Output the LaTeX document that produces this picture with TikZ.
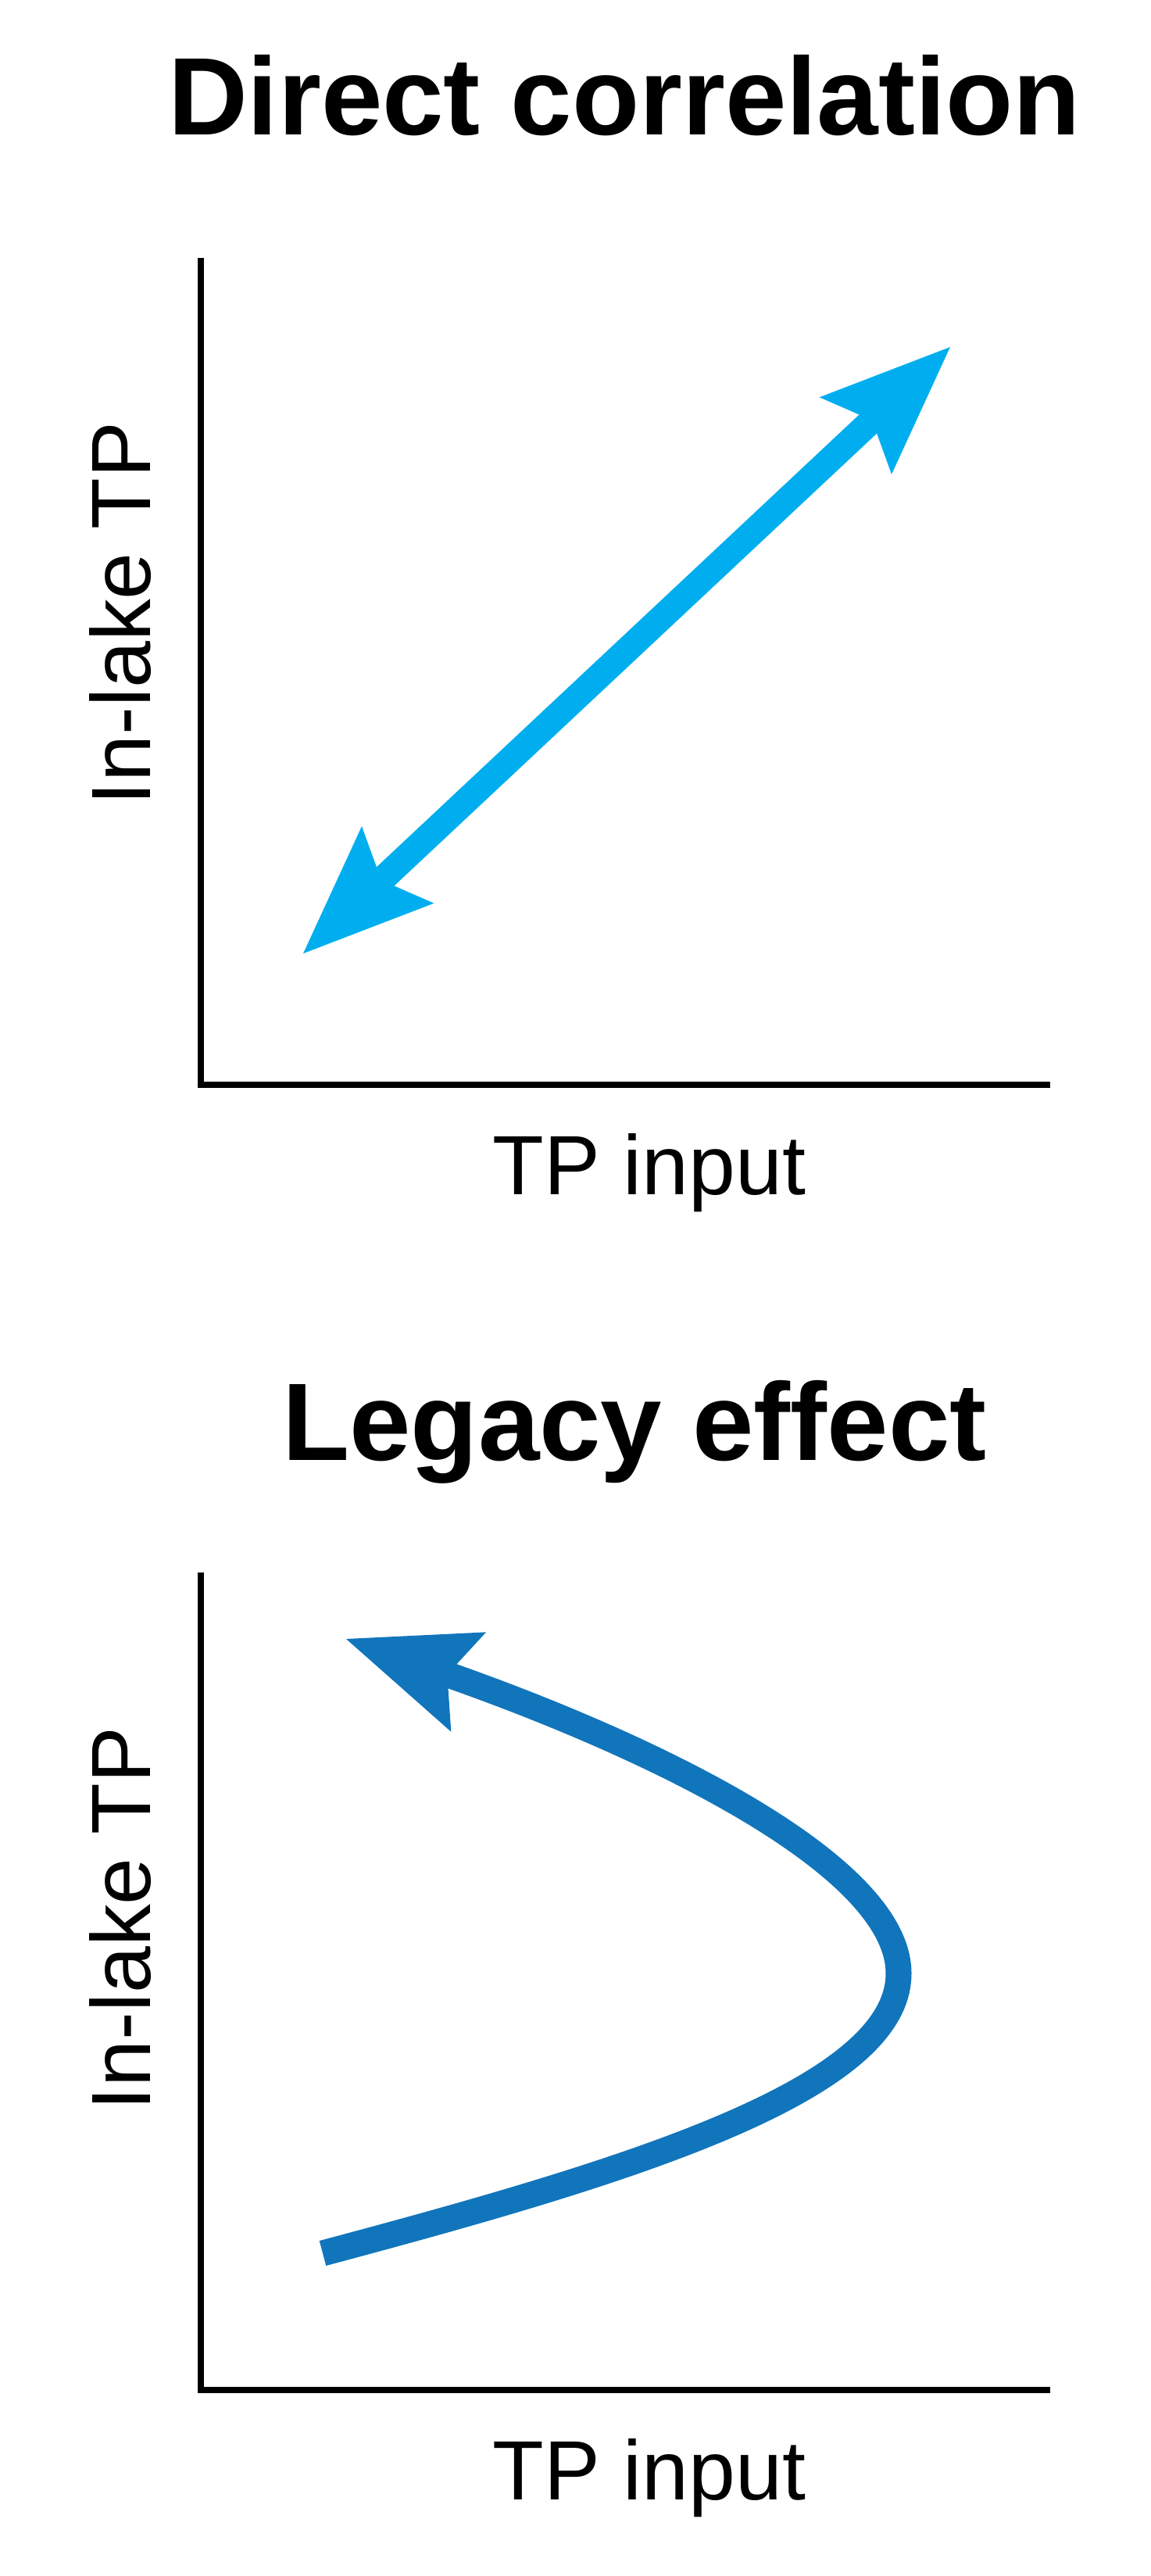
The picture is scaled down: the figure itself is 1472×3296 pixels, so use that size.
\documentclass[tikz,border=0pt]{standalone}
\usepackage{fontspec}
\setmainfont{Liberation Sans}
\usetikzlibrary{arrows.meta}

\definecolor{corrblue}{HTML}{00AEEF}
\definecolor{legacyblue}{HTML}{1175BC}

\begin{document}
\begin{tikzpicture}[
    x=0.01cm, y=-0.01cm,
    heading/.style={font=\fontsize{40.1}{48}\selectfont\bfseries, inner sep=0pt, anchor=base},
    axlabel/.style={font=\fontsize{30.6}{37}\selectfont, inner sep=0pt, anchor=base},
    axisline/.style={draw=black, line width=0.085cm},
    trendhead/.tip={Stealth[length=1.66cm, width=1.35cm, inset=0.29cm, line width=0pt]},
    trend/.style={line width=0.33cm}
]
\useasboundingbox (0,0) rectangle (1472,3296);

% top panel
\node[heading] (title1) at (799,172) {Direct correlation};
\coordinate (ytop1) at (257,330);
\coordinate (xend1) at (1344,1388);
\draw[axisline] (ytop1) |- (xend1);
\node[axlabel] (xlab1) at (831,1528) {TP input};
\node[axlabel, rotate=90] (ylab1) at (192,785) {In-lake TP};

\coordinate (low) at (388,1220);
\coordinate (high) at (1216,444);
\draw[trend, corrblue, trendhead-trendhead] (low) -- (high);

% bottom panel
\node[heading] (title2) at (812,1868) {Legacy effect};
\coordinate (ytop2) at (257,2012);
\coordinate (xend2) at (1344,3058);
\draw[axisline] (ytop2) |- (xend2);
\node[axlabel] (xlab2) at (831,3198) {TP input};
\node[axlabel, rotate=90] (ylab2) at (192,2455) {In-lake TP};

\coordinate (start) at (413,2883);
\coordinate (turn) at (1150,2525);
\coordinate (stop) at (443,2097);
\draw[trend, legacyblue, -trendhead] (start)
    .. controls (799,2780) and (1150,2675) .. (turn)
    .. controls (1150,2390) and (850,2240) .. (stop);
\end{tikzpicture}
\end{document}
